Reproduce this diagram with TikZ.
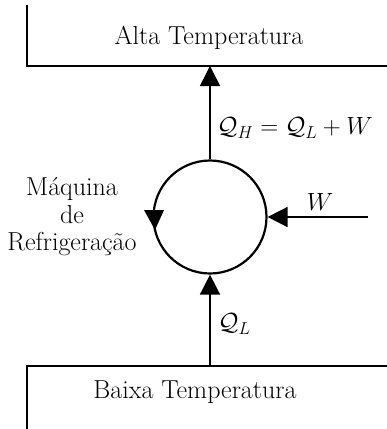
\documentclass[tikz,border=0pt]{standalone}
\usepackage{fontspec}
\usetikzlibrary{arrows.meta,calc}
\begin{document}
\begin{tikzpicture}[x=1pt,y=1pt,
  txt/.style={font=\fontsize{26}{27.5}\selectfont, inner sep=0pt, align=center},
  wall/.style={line width=1.8pt},
  tip/.style={-{Triangle[width=20pt,length=20pt]}},
  flow/.style={line width=1.6pt, tip},
  engine/.style={circle, draw, line width=2.2pt, minimum size=113pt, inner sep=0pt}]
\useasboundingbox (0,0) rectangle (387,-429);
% reservoirs
\draw[wall] (27,-5) -- (27,-66) -- (387,-66);
\draw[wall] (387,-366) -- (27,-366) -- (27,-429);
\node[txt] (alta) at (209,-38) {Alta Temperatura};
\node[txt] (baixa) at (195,-392) {Baixa Temperatura};
% engine
\node[engine] (m) at (210,-217) {};
\fill ($(m.center)+(-66,7)$) -- ($(m.center)+(-46,7)$) -- ($(m.center)+(-55,-13)$) -- cycle;
\node[txt] (lbl) at (72,-217) {Máquina\\de\\Refrigeração};
% connectors
\coordinate (top) at (210,-66);
\coordinate (bot) at (210,-366);
\coordinate (wst) at (368,-217);
\draw[flow] (m.north) -- (top);
\draw[flow] (bot) -- (m.south);
\draw[flow] (wst) -- (m.east);
% labels
\node[txt, anchor=west] (qh) at (217,-128) {$\mathcal{Q}_H = \mathcal{Q}_L + W$};
\node[txt, anchor=west] (ql) at (218,-324) {$\mathcal{Q}_L$};
\node[txt] (w) at (320,-202) {$W$};
\end{tikzpicture}
\end{document}
